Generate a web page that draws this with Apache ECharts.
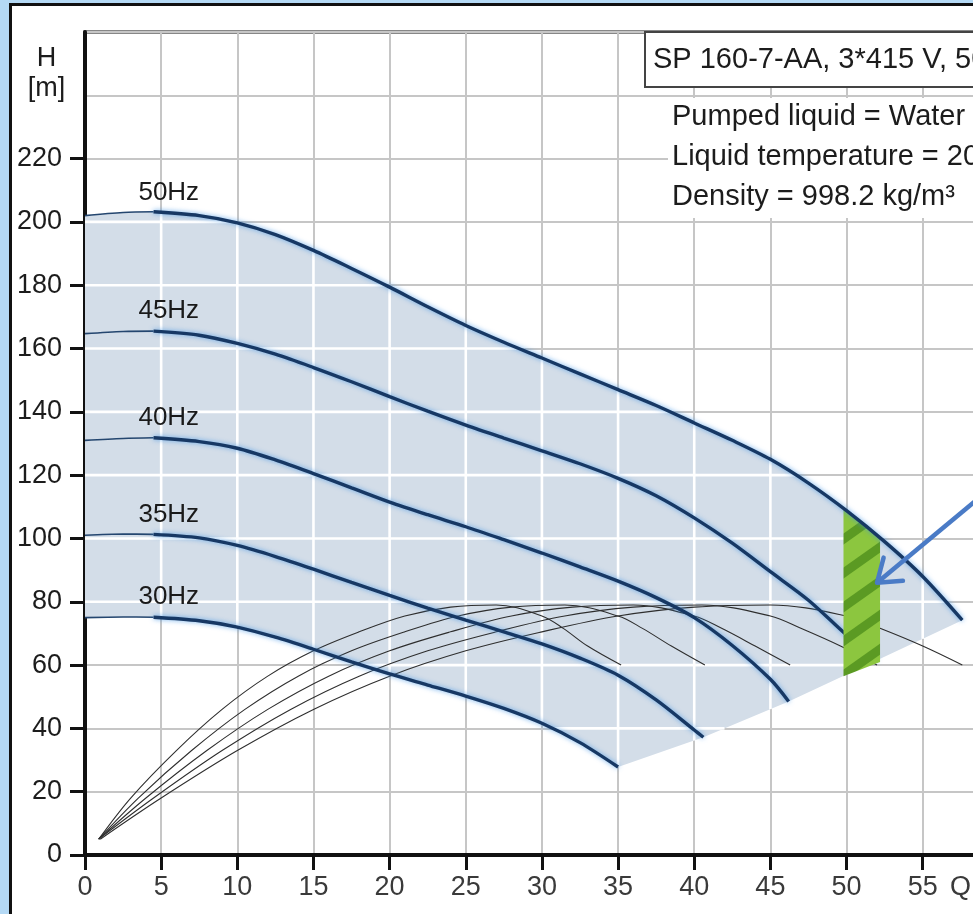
<!DOCTYPE html>
<html><head><meta charset="utf-8">
<script src="https://cdn.jsdelivr.net/npm/echarts@6/dist/echarts.min.js"></script>
<style>
html,body{margin:0;padding:0;width:973px;height:914px;overflow:hidden;background:#b4d9f5;}
#frame{position:absolute;left:9px;top:3px;width:1200px;height:1100px;background:#fff;border-left:3px solid #111;border-top:3px solid #111;}
#chart{position:absolute;left:0;top:0;width:1150px;height:908px;}
</style></head><body>
<div id="frame"><div id="chart"></div></div>
<script>
// ---------- data ----------
const q50 = [0, 2.5, 4.5, 7.5, 10, 12.5, 15, 17.5, 20, 22.5, 25, 27.5, 30, 32.5, 35, 37.5, 40, 42.5, 45, 47.5, 50, 52.5, 55, 57.6];
const h50 = [202, 203, 203.2, 202, 199.7, 196, 191, 185.3, 179.4, 173.2, 167.3, 162, 157, 152, 147, 142, 136.5, 131, 125, 117.5, 108.8, 99, 88, 74.2];
const q45 = [0, 2.5, 4.5, 7.5, 10, 12.5, 15, 17.5, 20, 22.5, 25, 27.5, 30, 32.5, 35, 37.5, 40, 42.5, 45, 47.5, 50, 52];
const h45 = [164.7, 165.4, 165.5, 164.2, 161.6, 158.2, 154, 149.5, 144.8, 140.2, 135.8, 131.7, 127.7, 123.6, 119, 113.5, 106.5, 98.5, 89.5, 80.5, 69.5, 61.5];
const q40 = [0, 2.5, 4.5, 7.5, 10, 12.5, 15, 17.5, 20, 22.5, 25, 27.5, 30, 32.5, 35, 37.5, 40, 42.5, 45, 46.2];
const h40 = [131, 131.6, 131.8, 130.6, 128.5, 124.8, 120.5, 116, 111.5, 107.5, 103.7, 99.6, 95.4, 91, 86.5, 81.3, 75, 66.2, 55.5, 48.5];
const q35 = [0, 2.5, 4.5, 7.5, 10, 12.5, 15, 17.5, 20, 22.5, 25, 27.5, 30, 32.5, 35, 37.5, 40, 40.6];
const h35 = [101, 101.4, 101.3, 100.2, 97.8, 94.3, 90.3, 86.1, 82, 78, 74.2, 70.5, 66.7, 62.2, 56.8, 49, 39.5, 37.2];
const q30 = [0, 2.5, 4.5, 7.5, 10, 12.5, 15, 17.5, 20, 22.5, 25, 27.5, 30, 32.5, 35];
const h30 = [75, 75.2, 75.1, 74, 72, 68.8, 65, 61, 57.2, 53.7, 50.2, 46.3, 41.6, 35.5, 27.8];

// end-of-curve limit line (bottom-right edge of the shaded range)
const limQ = [35, 40.6, 46.2, 52, 57.6];
const limH = [27.8, 37.2, 48.5, 61.5, 74.2];

// thin curves
const eQ30 = [0.9, 3, 6, 9, 12, 15, 18, 21, 24, 27, 30, 31.4, 33, 35.2];
const eQ35 = [0.9, 3.5, 7, 10.5, 14, 17.5, 21, 24.5, 28, 31.5, 35, 36.6, 38.5, 40.7];
const eQ40 = [0.9, 4, 8, 12, 16, 20, 24, 28, 32, 36, 40, 41.8, 44, 46.3];
const eQ45 = [0.9, 4.5, 9, 13.5, 18, 22.5, 27, 31.5, 36, 40.5, 45, 47, 49.6, 52];
const eQ50 = [1, 5, 10, 15, 20, 25, 30, 35, 40, 45, 50, 52.2, 55, 57.6];
const eH30 = [5, 18, 33, 46, 56.5, 64.5, 70.5, 75.5, 78.3, 79, 75.5, 71.6, 66, 60];
const eH35 = [5, 18, 33, 46, 56.5, 64.5, 70.5, 75.5, 78.3, 79, 75.5, 71.6, 66, 60];
const eH40 = [5, 18, 33, 46, 56.5, 64.5, 70.5, 75.5, 78.3, 79, 75.5, 71.6, 66, 60];
const eH45 = [5, 18, 33, 46, 56.5, 64.5, 70.5, 75.5, 78.3, 79, 75.5, 71.6, 66, 60];
const eH50 = [5, 18, 33, 46, 56.5, 64.5, 70.5, 75.5, 78.3, 79, 75.5, 71.6, 66, 60];

// frequency labels
const hzNames = ['50Hz', '45Hz', '40Hz', '35Hz', '30Hz'];
const labelQ = [5.5, 5.5, 5.5, 5.5, 5.5];
const labelH = [203, 165.5, 131.8, 101.3, 75.1];

// green hatched band
const greenQ = [49.8, 52.2];
const greenTop = [109.6, 100];
const greenBot = [56.5, 61];

// arrow
const arrowFrom = [60, 118];
const arrowTo = [52, 86];

// axes
const yTickVals = [0, 20, 40, 60, 80, 100, 120, 140, 160, 180, 200, 220];
const xGridVals = [5, 10, 15, 20, 25, 30, 35, 40, 45, 50, 55, 60];
const yGridVals = [20, 40, 60, 80, 100, 120, 140, 160, 180, 200, 220, 240];

const titleText = 'SP 160-7-AA, 3*415 V, 50Hz';
const infoLines = ['Pumped liquid = Water', 'Liquid temperature = 20 °C', 'Density = 998.2 kg/m³'];

// ---------- helpers ----------
const FONT = '"Liberation Sans", Arial, sans-serif';
function zip(q, h) { return q.map((v, i) => [v, h[i]]); }

const regionPts = [];
for (let i = 0; i < q50.length; i++) regionPts.push([q50[i], h50[i]]);
for (let i = limQ.length - 2; i >= 0; i--) regionPts.push([limQ[i], limH[i]]);
for (let i = q30.length - 2; i >= 0; i--) regionPts.push([q30[i], h30[i]]);

function crossings(poly, axis, c) {
  const out = [];
  for (let i = 0; i < poly.length; i++) {
    const a = poly[i], b = poly[(i + 1) % poly.length];
    const va = a[axis], vb = b[axis];
    if ((va <= c && vb > c) || (vb <= c && va > c)) {
      const t = (c - va) / (vb - va);
      out.push(a[1 - axis] + t * (b[1 - axis] - a[1 - axis]));
    }
  }
  return out.sort((m, n) => m - n);
}

// stripe pattern (diagonal "/" stripes, seamless tile)
const sc = document.createElement('canvas');
sc.width = 48; sc.height = 34;
const g = sc.getContext('2d');
g.fillStyle = '#8cc63f'; g.fillRect(0, 0, 48, 34);
g.strokeStyle = '#5b9a23'; g.lineWidth = 9;
for (let k = -2; k <= 2; k++) {
  g.beginPath(); g.moveTo(-48, 68 + 34 * k); g.lineTo(96, -34 + 34 * k); g.stroke();
}

const curves = [
  { q: q50, h: h50, z: 7 },
  { q: q45, h: h45, z: 4 },
  { q: q40, h: h40, z: 4 },
  { q: q35, h: h35, z: 4 },
  { q: q30, h: h30, z: 4 }
];
const effs = [[eQ30, eH30], [eQ35, eH35], [eQ40, eH40], [eQ45, eH45], [eQ50, eH50]];

const series = [];
// shaded operating range + white grid inside it
series.push({
  type: 'custom', z: 1, silent: true, data: [[0, 0]],
  renderItem: (params, api) => {
    const poly = regionPts.map(p => api.coord(p));
    const children = [{ type: 'polygon', shape: { points: poly }, style: { fill: '#d3dde8' } }];
    xGridVals.forEach(v => {
      const px = api.coord([v, 0])[0];
      const ys = crossings(poly, 0, px);
      for (let k = 0; k + 1 < ys.length; k += 2)
        children.push({ type: 'line', shape: { x1: px, y1: ys[k], x2: px, y2: ys[k + 1] }, style: { stroke: '#ffffff', lineWidth: 2.6 } });
    });
    yGridVals.forEach(v => {
      const py = api.coord([0, v])[1];
      const xs = crossings(poly, 1, py);
      for (let k = 0; k + 1 < xs.length; k += 2)
        children.push({ type: 'line', shape: { x1: xs[k], y1: py, x2: xs[k + 1], y2: py }, style: { stroke: '#ffffff', lineWidth: 2.6 } });
    });
    return { type: 'group', children };
  }
});
// thin curves
effs.forEach(([q, h]) => {
  series.push({
    type: 'line', z: 3, silent: true, showSymbol: false, smooth: 0.35,
    data: zip(q, h), lineStyle: { color: '#2e2e2e', width: 1.1 }
  });
});
// H-Q curves
curves.forEach(c => {
  const pts = zip(c.q, c.h);
  const thin = pts.filter(p => p[0] <= 4.5);
  const thick = pts.filter(p => p[0] >= 4.5);
  series.push({
    type: 'line', z: c.z, silent: true, showSymbol: false, smooth: 0.3,
    data: thin, lineStyle: { color: '#24466f', width: 1.6 }
  });
  series.push({
    type: 'line', z: c.z, silent: true, showSymbol: false, smooth: 0.3,
    data: thick, lineStyle: { color: '#173864', width: 3.4, shadowColor: 'rgba(60,145,230,0.75)', shadowBlur: 5 }
  });
});
// green band
series.push({
  type: 'custom', z: 5, silent: true, data: [[0, 0]],
  renderItem: (params, api) => {
    const pts = [api.coord([greenQ[0], greenTop[0]]), api.coord([greenQ[1], greenTop[1]]),
                 api.coord([greenQ[1], greenBot[1]]), api.coord([greenQ[0], greenBot[0]])];
    return { type: 'polygon', shape: { points: pts }, style: { fill: { image: sc, repeat: 'repeat' } } };
  }
});
// arrow
series.push({
  type: 'custom', z: 9, silent: true, data: [[0, 0]],
  renderItem: (params, api) => {
    const a = api.coord(arrowFrom), b = api.coord(arrowTo);
    const ang = Math.atan2(a[1] - b[1], a[0] - b[0]);
    const L = 26, s = 0.62;
    const h1 = [b[0] + L * Math.cos(ang + s), b[1] + L * Math.sin(ang + s)];
    const h2 = [b[0] + L * Math.cos(ang - s), b[1] + L * Math.sin(ang - s)];
    return {
      type: 'group', children: [
        { type: 'line', shape: { x1: a[0], y1: a[1], x2: b[0], y2: b[1] }, style: { stroke: '#4a7bc6', lineWidth: 4.5 } },
        { type: 'polyline', shape: { points: [h1, b, h2] }, style: { stroke: '#4a7bc6', lineWidth: 4.5, fill: null, lineJoin: 'round', lineCap: 'round' } }
      ]
    };
  }
});
// frequency labels
series.push({
  type: 'scatter', z: 10, silent: true, symbolSize: 0,
  itemStyle: { opacity: 1 },
  data: hzNames.map((n, i) => ({ name: n, value: [labelQ[i], labelH[i]] })),
  label: { show: true, position: 'top', distance: 7, formatter: '{b}', fontSize: 26, fontFamily: FONT, color: '#1a1a1a', opacity: 1, textBorderWidth: 0 }
});

const chart = echarts.init(document.getElementById('chart'), null, { renderer: 'canvas' });
chart.setOption({
  animation: false,
  grid: { left: 73, top: 26, width: 990, height: 823, show: true, borderColor: '#111', borderWidth: 3, backgroundColor: 'transparent' },
  xAxis: {
    type: 'value', min: 0, max: 65, interval: 5,
    axisLine: { show: true, lineStyle: { color: '#111', width: 4 } },
    axisTick: { show: true, length: 15, lineStyle: { color: '#111', width: 3 } },
    axisLabel: { margin: 19, fontSize: 27, fontFamily: FONT, color: '#3a3a3a',
      formatter: v => v === 60 ? 'Q [m³/h]' : (v > 60 ? '' : String(v)) },
    splitLine: { show: true, lineStyle: { color: '#c6c6c6', width: 2 } }
  },
  yAxis: [{
    type: 'value', min: 0, max: 260, interval: 20,
    axisLine: { show: false }, axisTick: { show: false }, axisLabel: { show: false },
    splitLine: { show: true, lineStyle: { color: '#c6c6c6', width: 2 } }
  }, {
    type: 'value', min: 0, max: 260, interval: 20, position: 'left',
    axisLine: { show: true, lineStyle: { color: '#111', width: 4 } },
    axisTick: { show: true, length: 15, lineStyle: { color: '#111', width: 3 }, customValues: yTickVals },
    axisLabel: { margin: 23, fontSize: 27, fontFamily: FONT, color: '#1c1c1c', customValues: yTickVals },
    splitLine: { show: false }
  }],
  series: series,
  graphic: [
    { type: 'text', z: 100, x: 34.5, y: 68, style: { text: 'H\n[m]', fontSize: 27, fontFamily: FONT, fill: '#1c1c1c', textAlign: 'center', textVerticalAlign: 'middle', lineHeight: 30 } },
    { type: 'rect', z: 100, shape: { x: 633, y: 26, width: 500, height: 55 }, style: { fill: '#fff', stroke: '#444', lineWidth: 2 } },
    { type: 'text', z: 101, x: 641, y: 54, style: { text: titleText, fontSize: 29, fontFamily: FONT, fill: '#1c1c1c', textAlign: 'left', textVerticalAlign: 'middle' } },
    { type: 'rect', z: 100, shape: { x: 656, y: 92, width: 500, height: 120 }, style: { fill: '#fff' } },
    { type: 'text', z: 101, x: 660, y: 111, style: { text: infoLines[0], fontSize: 29, fontFamily: FONT, fill: '#1c1c1c', textAlign: 'left', textVerticalAlign: 'middle' } },
    { type: 'text', z: 101, x: 660, y: 151, style: { text: infoLines[1], fontSize: 29, fontFamily: FONT, fill: '#1c1c1c', textAlign: 'left', textVerticalAlign: 'middle' } },
    { type: 'text', z: 101, x: 660, y: 191, style: { text: infoLines[2], fontSize: 29, fontFamily: FONT, fill: '#1c1c1c', textAlign: 'left', textVerticalAlign: 'middle' } }
  ]
});
</script></body></html>
